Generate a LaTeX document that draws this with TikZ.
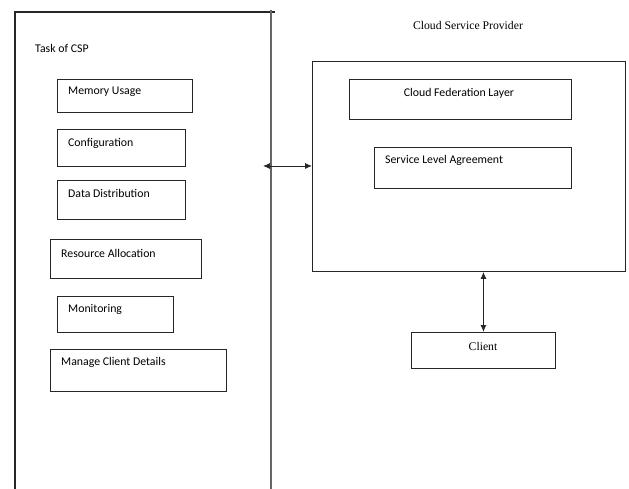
\documentclass[tikz,border=0pt]{standalone}
\usepackage{fontspec}
\setmainfont{Liberation Serif}
\newfontfamily\calib{Carlito}
\usetikzlibrary{arrows.meta}
\begin{document}
\begin{tikzpicture}[x=1pt,y=-1pt,
  box/.style={draw=black!85, line width=0.9pt, rectangle, inner sep=0pt, anchor=north west},
  stxt/.style={anchor=west, inner sep=0pt, font=\calib\fontsize{11.8}{13}\selectfont},
  rtxt/.style={inner sep=0pt, font=\fontsize{11.7}{13}\selectfont},
  dbl/.style={{Latex[length=7pt,width=6pt]}-{Latex[length=7pt,width=6pt]}, line width=0.9pt, draw=black!85}]
\useasboundingbox (0,0) rectangle (629,489);
% left container (open at the bottom)
\coordinate (lt) at (15,12);
\coordinate (lr) at (271,10);
\draw[line width=1.1pt, black!85] (15,489) -- (lt) -- (275,12);
\draw[line width=1.1pt, black!60] (lr) -- (271,489);
\node[stxt] (task) at (35,48) {Task of CSP};
% task boxes
\node[box, minimum width=135, minimum height=33] (mem) at (57,79) {};
\node[stxt] (memt) at (68,92) {Memory Usage};
\node[box, minimum width=128, minimum height=37] (conf) at (57,129) {};
\node[stxt] (conft) at (68,143) {Configuration};
\node[box, minimum width=128, minimum height=39] (dd) at (57,180) {};
\node[stxt] (ddt) at (68,193) {Data Distribution};
\node[box, minimum width=151, minimum height=39] (ra) at (50,239) {};
\node[stxt] (rat) at (61,253) {Resource Allocation};
\node[box, minimum width=116, minimum height=36] (mon) at (57,296) {};
\node[stxt] (mont) at (68,309) {Monitoring};
\node[box, minimum width=176, minimum height=42] (mcd) at (50,349) {};
\node[stxt] (mcdt) at (61,362) {Manage Client Details};
% cloud service provider
\node[rtxt] (csptitle) at (468,26) {Cloud Service Provider};
\node[box, minimum width=313, minimum height=210] (csp) at (312,61) {};
\node[box, minimum width=222, minimum height=40] (cfl) at (349,79) {};
\node[stxt, anchor=center] (cflt) at (459,93) {Cloud Federation Layer};
\node[box, minimum width=197, minimum height=41] (sla) at (374,147) {};
\node[stxt] (slat) at (385,160) {Service Level Agreement};
% client
\node[box, minimum width=144, minimum height=36] (client) at (411,332) {};
\node[rtxt] (clientt) at (483,346) {Client};
% connectors
\coordinate (la) at (263,166);
\draw[dbl] (la) -- (csp.west |- la);
\draw[dbl] (client.north |- csp.south) -- (client.north);
\end{tikzpicture}
\end{document}
